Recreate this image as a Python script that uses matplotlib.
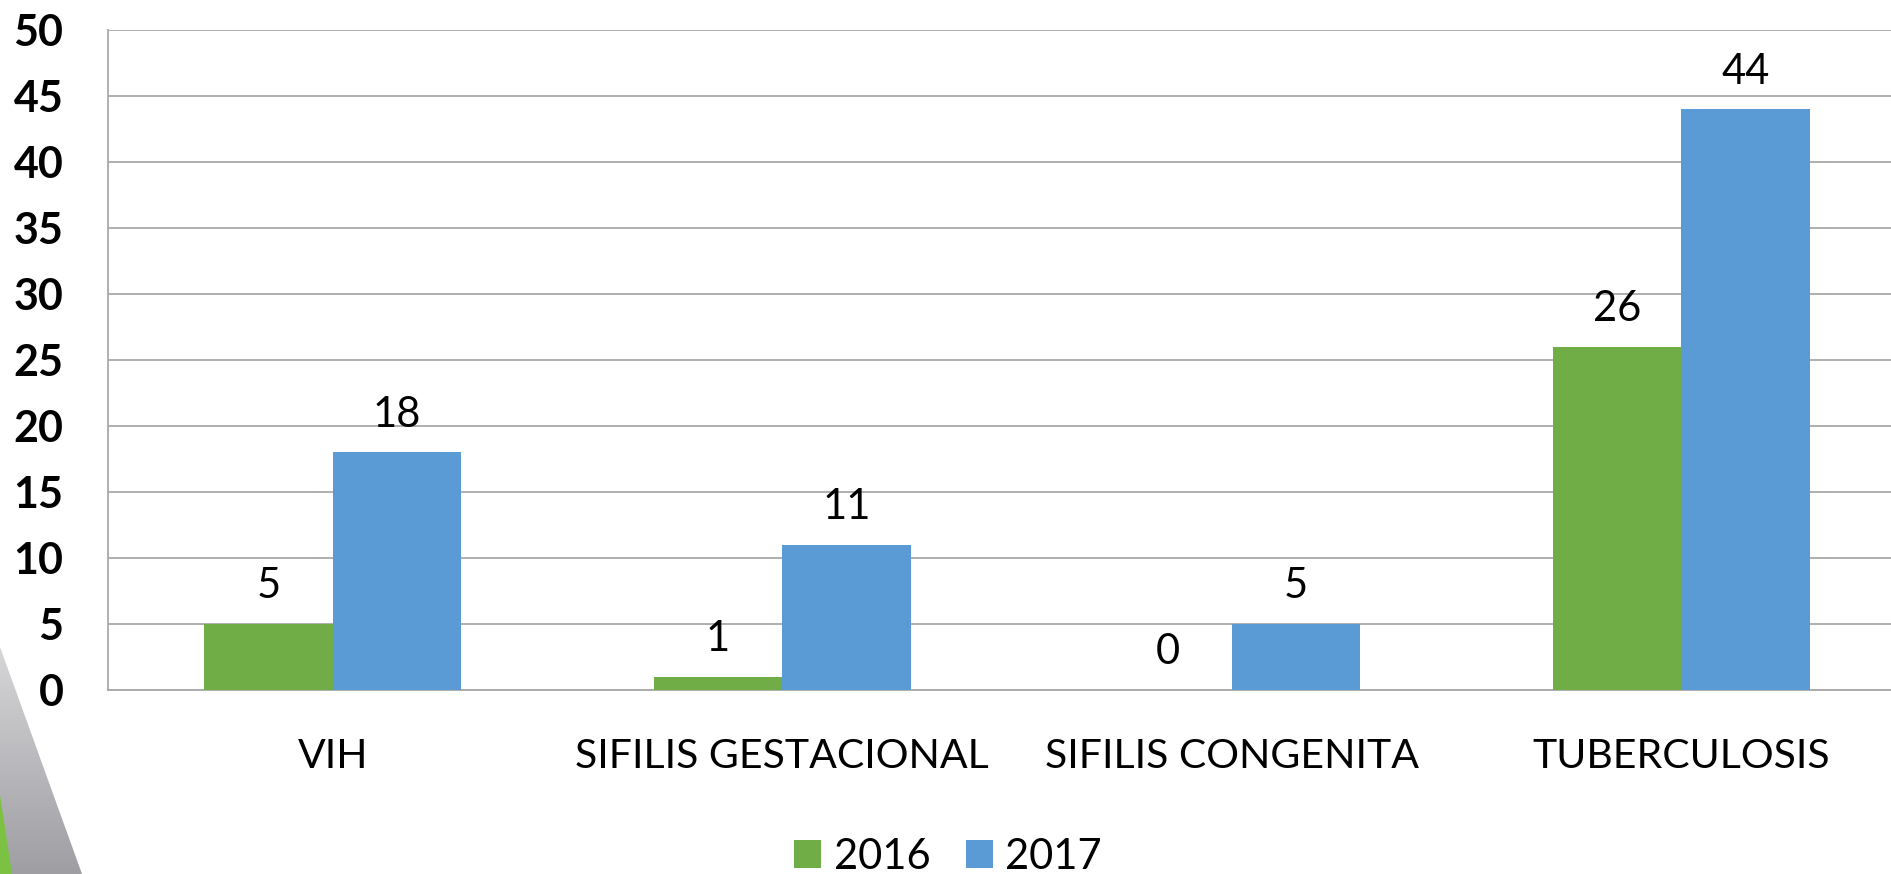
import matplotlib
matplotlib.use("Agg")
import matplotlib.pyplot as plt
import numpy as np
from matplotlib.patches import Polygon, Patch
from matplotlib.colors import LinearSegmentedColormap

categories = ["VIH", "SIFILIS GESTACIONAL", "SIFILIS CONGENITA", "TUBERCULOSIS"]
series_names = ["2016", "2017"]
values_2016 = [5, 1, 0, 26]
values_2017 = [18, 11, 5, 44]
yticks = [0, 5, 10, 15, 20, 25, 30, 35, 40, 45, 50]

GREEN = "#70AD47"
BLUE = "#5B9BD5"
GRID = "#A9A9A9"

plt.rcParams['font.family'] = ['Lato', 'DejaVu Sans']

W, H = 1891, 874
fig = plt.figure(figsize=(W / 100, H / 100), dpi=100)

# decorative background triangle (bottom-left)
bg = fig.add_axes([0, 0, 1, 1], zorder=0)
bg.set_xlim(0, W)
bg.set_ylim(H, 0)
bg.axis('off')
grad = np.linspace(0, 1, 256).reshape(-1, 1)
cmap = LinearSegmentedColormap.from_list("g", ["#D8D8DA", "#9E9EA3"])
im = bg.imshow(grad, extent=[0, 100, H, 640], aspect='auto', cmap=cmap, origin='upper')
tri = Polygon([[0, 647], [82, 874], [0, 874]], closed=True, transform=bg.transData,
              facecolor='none', edgecolor='none')
bg.add_patch(tri)
im.set_clip_path(tri)
bg.add_patch(Polygon([[0, 795], [12, 874], [0, 874]], closed=True, facecolor="#7CC242", edgecolor='none'))

left = 108 / W
bottom = 1 - 690 / H
height = (690 - 30) / H
width = 4 * 449.5 / W
ax = fig.add_axes([left, bottom, width, height], zorder=1)
ax.patch.set_alpha(0)

x = np.arange(len(categories))
bw = 0.286
b1 = ax.bar(x - bw / 2, values_2016, bw, color=GREEN, zorder=3, label=series_names[0])
b2 = ax.bar(x + bw / 2, values_2017, bw, color=BLUE, zorder=3, label=series_names[1])

ax.set_xlim(-0.5, 3.5)
ax.set_ylim(0, 50)
ax.set_yticks(yticks)
ax.set_yticklabels([str(t) for t in yticks], fontsize=31, fontweight='bold')
ax.tick_params(axis='y', length=0, pad=32)
ax.set_xticks([])
ax.yaxis.grid(True, color=GRID, linewidth=1.3, zorder=0)
for s in ['top', 'right']:
    ax.spines[s].set_visible(False)
ax.spines['left'].set_color(GRID)
ax.spines['left'].set_linewidth(1.3)
ax.spines['bottom'].set_color(GRID)
ax.spines['bottom'].set_linewidth(1.3)

for xi, cat in zip(x, categories):
    ax.text(xi, -5.0, cat, ha='center', va='center', fontsize=29.5, clip_on=False)

for bars, vals in [(b1, values_2016), (b2, values_2017)]:
    for rect, v in zip(bars, vals):
        ax.annotate(str(v), (rect.get_x() + rect.get_width() / 2, v),
                    xytext=(0, 27), textcoords='offset points',
                    ha='center', va='center', fontsize=30)

handles = [Patch(facecolor=GREEN, label=series_names[0]), Patch(facecolor=BLUE, label=series_names[1])]
fig.legend(handles=handles, loc='center', bbox_to_anchor=(948 / W, 1 - 857 / H), ncol=2,
           frameon=False, fontsize=30, handlelength=0.65, handleheight=0.65,
           handletextpad=0.3, columnspacing=0.85, borderpad=0, borderaxespad=0)

fig.savefig("out.png", dpi=100)
